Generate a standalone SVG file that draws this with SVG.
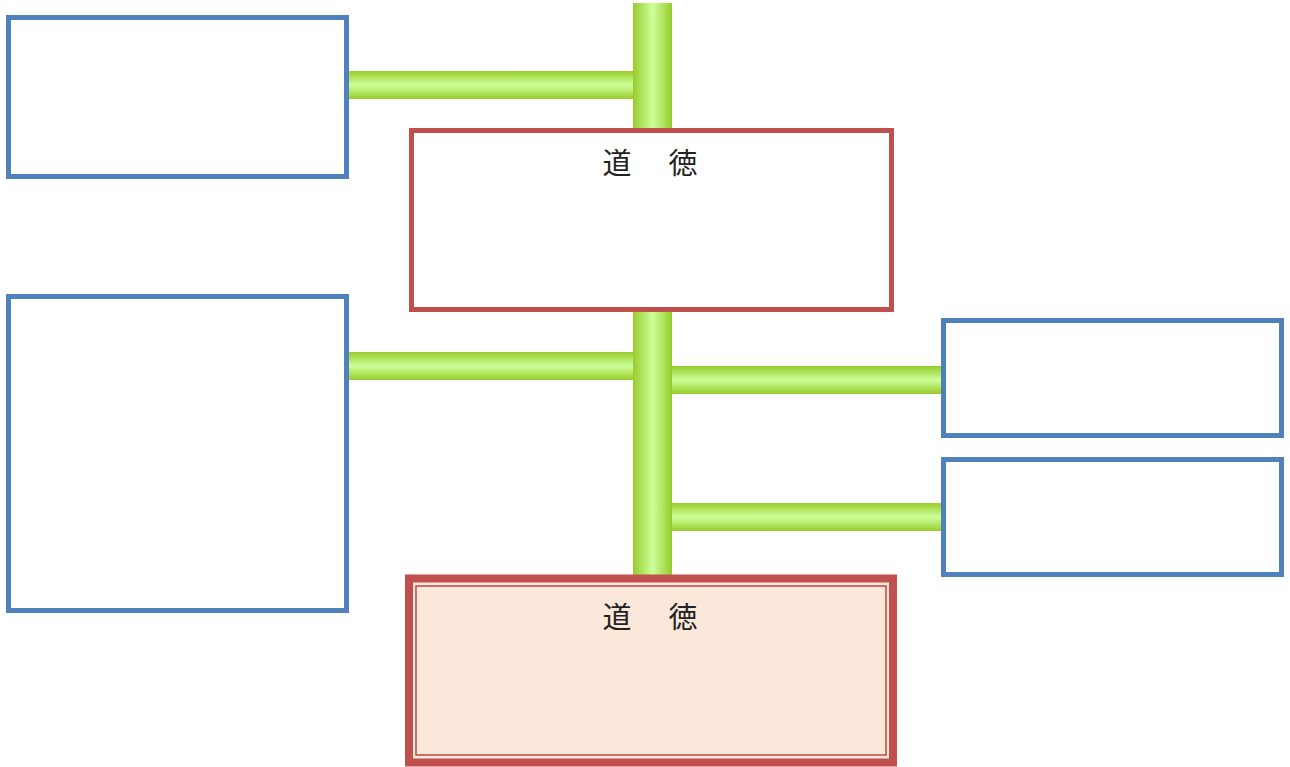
<svg xmlns="http://www.w3.org/2000/svg" width="1290" height="767" viewBox="0 0 1290 767">
<style>
.blue{fill:#fff;stroke:#4F81BD;stroke-width:5}
.red{fill:#fff;stroke:#C0504D;stroke-width:5}
.lbl{font-family:"Noto Sans CJK JP","Noto Sans CJK SC",sans-serif;font-size:29px;fill:#222}
</style>
<defs>
<linearGradient id="gv" x1="0" y1="0" x2="1" y2="0">
<stop offset="0" stop-color="#98CC2C"/><stop offset="0.5" stop-color="#CCFF99"/><stop offset="1" stop-color="#98CC2C"/>
</linearGradient>
<linearGradient id="gh" x1="0" y1="0" x2="0" y2="1">
<stop offset="0" stop-color="#98CC2C"/><stop offset="0.5" stop-color="#CCFF99"/><stop offset="1" stop-color="#98CC2C"/>
</linearGradient>
</defs>
<g id="connectors">
<rect x="347" y="71" width="288" height="28" fill="url(#gh)"/>
<rect x="347" y="352" width="288" height="28" fill="url(#gh)"/>
<rect x="670" y="366" width="273" height="28" fill="url(#gh)"/>
<rect x="670" y="503" width="273" height="28" fill="url(#gh)"/>
<rect x="633" y="3" width="39" height="574" fill="url(#gv)"/>
</g>
<g id="box-tl"><rect class="blue" x="8.5" y="17.5" width="338" height="159"/></g>
<g id="box-l"><rect class="blue" x="8.5" y="296.5" width="338" height="314"/></g>
<g id="box-r1"><rect class="blue" x="943.5" y="320.5" width="338" height="115"/></g>
<g id="box-r2"><rect class="blue" x="943.5" y="459.5" width="338" height="115"/></g>
<g id="box-moral1">
<rect class="red" x="411.5" y="130.5" width="480" height="179"/>
<text class="lbl" x="652" y="174" text-anchor="middle" xml:space="preserve" letter-spacing="4">道　徳</text>
</g>
<g id="box-moral2">
<rect x="409" y="578.5" width="484" height="184" fill="#FBE8DA" stroke="#C0504D" stroke-width="8"/>
<rect x="416" y="586" width="470" height="169" fill="none" stroke="#C0504D" stroke-width="1.6"/>
<text class="lbl" x="652" y="628" text-anchor="middle" xml:space="preserve" letter-spacing="4">道　徳</text>
</g>
</svg>
